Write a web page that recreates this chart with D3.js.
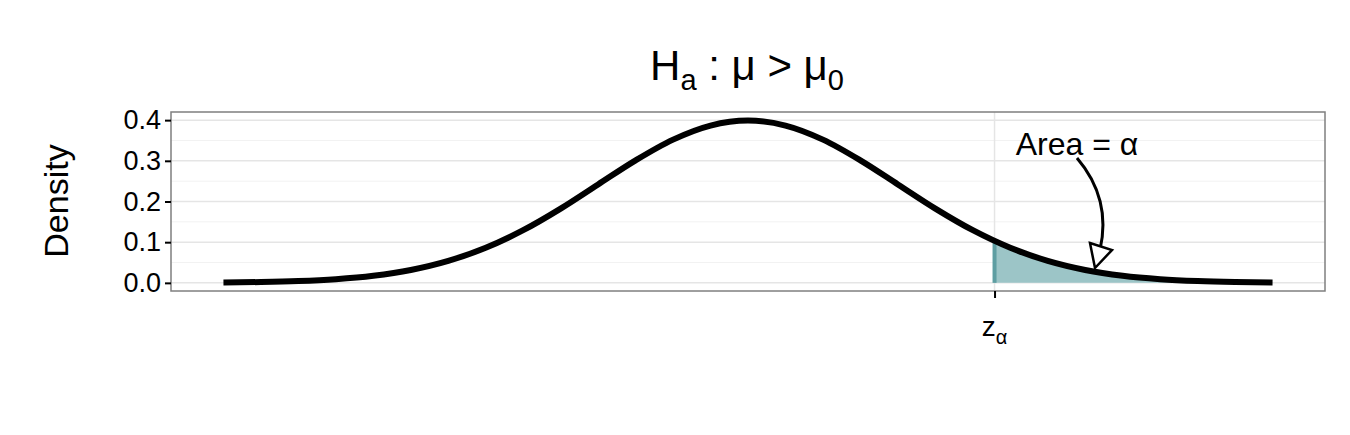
<!DOCTYPE html>
<html><head><meta charset="utf-8">
<script src="https://cdn.jsdelivr.net/npm/d3@7"></script>
<style>body{margin:0;background:#fff}text{font-family:"Liberation Sans",Arial,sans-serif}</style>
</head><body>
<svg id="chart" width="1350" height="435"></svg>
<script>
// values
const xs = [-3.5,-3.25,-3,-2.75,-2.5,-2.25,-2,-1.75,-1.5,-1.25,-1,-0.75,-0.5,-0.25,0,0.25,0.5,0.75,1,1.25,1.5,1.75,2,2.25,2.5,2.75,3,3.25,3.5];
const dens = [0.0009,0.002,0.0044,0.0091,0.0175,0.0317,0.054,0.0863,0.1295,0.1826,0.242,0.3011,0.3521,0.3867,0.3989,0.3867,0.3521,0.3011,0.242,0.1826,0.1295,0.0863,0.054,0.0317,0.0175,0.0091,0.0044,0.002,0.0009];
const shadeX = [1.645,1.75,2,2.25,2.5,2.75,3,3.25,3.5];
const shadeY = [0.1031,0.0863,0.054,0.0317,0.0175,0.0091,0.0044,0.002,0.0009];
const yTicks = [0,0.1,0.2,0.3,0.4];
const zAlpha = 1.645;

const svg = d3.select("#chart");
const pL = 171, pR = 1325, pT = 112, pB = 291;

const x = d3.scaleLinear().domain([-3.5*1.1, 3.5*1.1]).range([pL, pR]);
const y = d3.scaleLinear().domain([-0.02, 0.42]).range([pB, pT]);

// grid
svg.selectAll(".minor").data([0.05,0.15,0.25,0.35]).join("line")
  .attr("x1", pL).attr("x2", pR).attr("y1", d => y(d)).attr("y2", d => y(d))
  .attr("stroke", "#f2f2f2").attr("stroke-width", 1);
svg.selectAll(".major").data(yTicks).join("line")
  .attr("x1", pL).attr("x2", pR).attr("y1", d => y(d)).attr("y2", d => y(d))
  .attr("stroke", "#e5e5e5").attr("stroke-width", 1.5);
svg.append("line").attr("x1", x(zAlpha)).attr("x2", x(zAlpha)).attr("y1", pT).attr("y2", pB)
  .attr("stroke", "#e5e5e5").attr("stroke-width", 1.5);

// shaded tail
const pts = shadeX.map((d, i) => [d, shadeY[i]]);
svg.append("path").datum(pts)
  .attr("d", d3.area().x(d => x(d[0])).y0(y(0)).y1(d => y(d[1])).curve(d3.curveMonotoneX))
  .attr("fill", "#9cc5c7");
svg.append("line").attr("x1", x(zAlpha)).attr("x2", x(zAlpha)).attr("y1", y(0)).attr("y2", y(shadeY[0]))
  .attr("stroke", "#5e9ea2").attr("stroke-width", 4);

// curve
svg.append("path").datum(xs.map((d, i) => [d, dens[i]]))
  .attr("d", d3.line().x(d => x(d[0])).y(d => y(d[1])).curve(d3.curveMonotoneX))
  .attr("fill", "none").attr("stroke", "#000").attr("stroke-width", 6);

// panel border
svg.append("rect").attr("x", pL).attr("y", pT).attr("width", pR-pL).attr("height", pB-pT)
  .attr("fill", "none").attr("stroke", "#7f7f7f").attr("stroke-width", 1.5);

// y axis
const ya = svg.append("g").attr("transform", `translate(${pL},0)`)
  .call(d3.axisLeft(y).tickValues(yTicks).tickFormat(d3.format(".1f")).tickSize(6).tickPadding(4));
ya.select(".domain").remove();
ya.selectAll("line").attr("stroke", "#000").attr("stroke-width", 2);
ya.selectAll("text").attr("font-size", 27).attr("fill", "#000");

// x axis tick
const xa = svg.append("g").attr("transform", `translate(0,${pB})`)
  .call(d3.axisBottom(x).tickValues([zAlpha]).tickFormat("").tickSize(7));
xa.select(".domain").remove();
xa.selectAll("line").attr("stroke", "#000").attr("stroke-width", 2);
const zl = svg.append("text").attr("x", x(zAlpha)).attr("y", 336).attr("text-anchor", "middle").attr("font-size", 28);
zl.append("tspan").text("z");
zl.append("tspan").attr("dy", 8).attr("font-size", 20).text("α");

// labels
svg.append("text").attr("transform", "translate(68,201) rotate(-90)").attr("text-anchor", "middle")
  .attr("font-size", 34).text("Density");
const t = svg.append("text").attr("x", 747).attr("y", 80).attr("text-anchor", "middle").attr("font-size", 42);
t.append("tspan").text("H");
t.append("tspan").attr("dy", 10).attr("font-size", 29).text("a");
t.append("tspan").attr("dy", -10).text(" : μ > μ");
t.append("tspan").attr("dy", 10).attr("font-size", 29).text("0");

// annotation
svg.append("text").attr("x", 1077).attr("y", 155).attr("text-anchor", "middle").attr("font-size", 32).text("Area = α");
svg.append("path").attr("d", "M1077,158 C1100,185 1108,215 1100,250")
  .attr("fill", "none").attr("stroke", "#000").attr("stroke-width", 3);
svg.append("path").attr("d", "M1090,243 L1112,250 L1095,268 Z")
  .attr("fill", "#fff").attr("stroke", "#000").attr("stroke-width", 2.5);
</script>
</body></html>
